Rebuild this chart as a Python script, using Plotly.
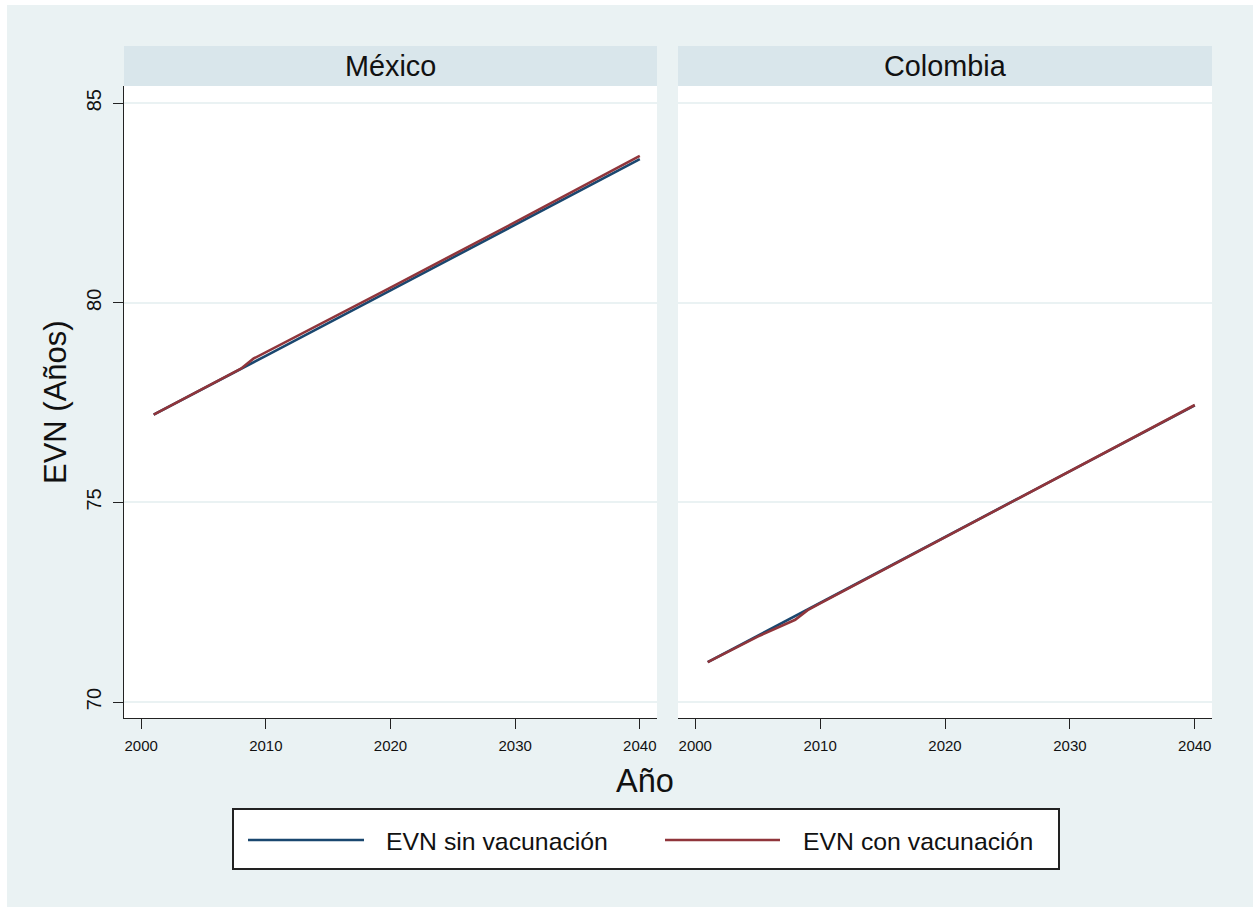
import plotly.graph_objects as go
from plotly.subplots import make_subplots

# Life expectancy at birth (EVN), by year and scenario
years = [2001, 2005, 2008, 2009, 2010, 2020, 2030, 2040]
mexico_sin = [77.20, 77.86, 78.35, 78.50, 78.67, 80.31, 81.95, 83.60]
mexico_con = [77.20, 77.86, 78.35, 78.60, 78.76, 80.38, 82.02, 83.68]
colombia_sin = [71.00, 71.66, 72.15, 72.32, 72.48, 74.13, 75.78, 77.43]
colombia_con = [71.00, 71.64, 72.06, 72.30, 72.47, 74.13, 75.78, 77.44]

panels = ["México", "Colombia"]
series_names = ["EVN sin vacunación", "EVN con vacunación"]
x_ticks = [2000, 2010, 2020, 2030, 2040]
y_ticks = [70, 75, 80, 85]

W, H = 1253, 907
BG = "#eaf2f3"
STRIP = "#d9e6eb"
NAVY = "#1a476f"
MAROON = "#90353b"
FONT = "Liberation Sans, Arial, Helvetica, sans-serif"
colors = [NAVY, MAROON]


def xp(px):
    return px / W


def yp(py):
    return 1 - py / H


# panel geometry in pixels
panel_x = [(124, 657), (678, 1212)]
plot_top, plot_bottom = 86, 718
strip_top = 46

fig = make_subplots(rows=1, cols=2, shared_yaxes=False)

data = [(mexico_sin, mexico_con), (colombia_sin, colombia_con)]
for i, (sin, con) in enumerate(data):
    for j, vals in enumerate((sin, con)):
        fig.add_trace(
            go.Scatter(
                x=years, y=vals, mode="lines", name=series_names[j],
                line=dict(color=colors[j], width=2.6),
                showlegend=False, hoverinfo="x+y",
            ),
            row=1, col=i + 1,
        )

xaxis_common = dict(
    range=[1998.62, 2041.38], tickvals=x_ticks, ticks="outside", ticklen=10,
    tickwidth=1.3, tickcolor="#222", showline=True, linecolor="#222",
    linewidth=1.3, showgrid=False, zeroline=False,
    tickfont=dict(family=FONT, size=15, color="#111"), ticklabelstandoff=4,
    automargin=False,
)
yaxis_common = dict(
    range=[69.6, 85.43], tickvals=y_ticks, showgrid=True, gridcolor=BG,
    gridwidth=2, zeroline=False, automargin=False,
    domain=[yp(plot_bottom), yp(plot_top)],
)

fig.update_layout(
    xaxis=dict(**xaxis_common, domain=[xp(panel_x[0][0]), xp(panel_x[0][1])]),
    xaxis2=dict(**xaxis_common, domain=[xp(panel_x[1][0]), xp(panel_x[1][1])]),
    yaxis=dict(**yaxis_common, ticks="outside", ticklen=10, tickwidth=1.3,
               tickcolor="#222", showline=True, linecolor="#222", linewidth=1.3,
               tickangle=-90, tickfont=dict(family=FONT, size=20, color="#111"),
               ticklabelstandoff=4),
    yaxis2=dict(**yaxis_common, showticklabels=False, showline=False),
)

shapes = [
    # white frame on top and left edges
    dict(type="rect", xref="paper", yref="paper", x0=0, x1=xp(7), y0=0, y1=1,
         fillcolor="white", line=dict(width=0), layer="below"),
    dict(type="rect", xref="paper", yref="paper", x0=0, x1=1, y0=yp(5), y1=1,
         fillcolor="white", line=dict(width=0), layer="below"),
]
annotations = []

for (x0, x1), title in zip(panel_x, panels):
    shapes.append(dict(type="rect", xref="paper", yref="paper",
                       x0=xp(x0), x1=xp(x1), y0=yp(plot_top), y1=yp(strip_top),
                       fillcolor=STRIP, line=dict(width=0)))
    annotations.append(dict(xref="paper", yref="paper", x=xp((x0 + x1) / 2),
                            y=yp((strip_top + plot_top) / 2), text=title,
                            showarrow=False, xanchor="center", yanchor="middle",
                            font=dict(family=FONT, size=28.8, color="#111")))

# axis titles
annotations.append(dict(xref="paper", yref="paper", x=xp(645), y=yp(781),
                        text="Año", showarrow=False, xanchor="center",
                        yanchor="middle",
                        font=dict(family=FONT, size=32.5, color="#111")))
annotations.append(dict(xref="paper", yref="paper", x=xp(55), y=yp(402),
                        text="EVN (Años)", showarrow=False, textangle=-90,
                        xanchor="center", yanchor="middle",
                        font=dict(family=FONT, size=31, color="#111")))

# legend box
leg_x0, leg_x1, leg_y0, leg_y1 = 233, 1059, 809, 869
leg_mid = 840
shapes.append(dict(type="rect", xref="paper", yref="paper",
                   x0=xp(leg_x0), x1=xp(leg_x1), y0=yp(leg_y1), y1=yp(leg_y0),
                   fillcolor="white", line=dict(color="#222", width=2)))
legend_items = [(248, 364, 384), (665, 780, 801)]
for (lx0, lx1, tx), name, color in zip(legend_items, series_names, colors):
    shapes.append(dict(type="line", xref="paper", yref="paper",
                       x0=xp(lx0), x1=xp(lx1), y0=yp(leg_mid), y1=yp(leg_mid),
                       line=dict(color=color, width=2.6)))
    annotations.append(dict(xref="paper", yref="paper", x=xp(tx), y=yp(leg_mid + 1),
                            text=name, showarrow=False, xanchor="left",
                            yanchor="middle",
                            font=dict(family=FONT, size=24.8, color="#111")))

fig.update_layout(
    width=W, height=H,
    margin=dict(l=0, r=0, t=0, b=0),
    paper_bgcolor=BG, plot_bgcolor="white",
    shapes=shapes, annotations=annotations,
    showlegend=False,
    font=dict(family=FONT),
)

fig.write_html("out.html")
